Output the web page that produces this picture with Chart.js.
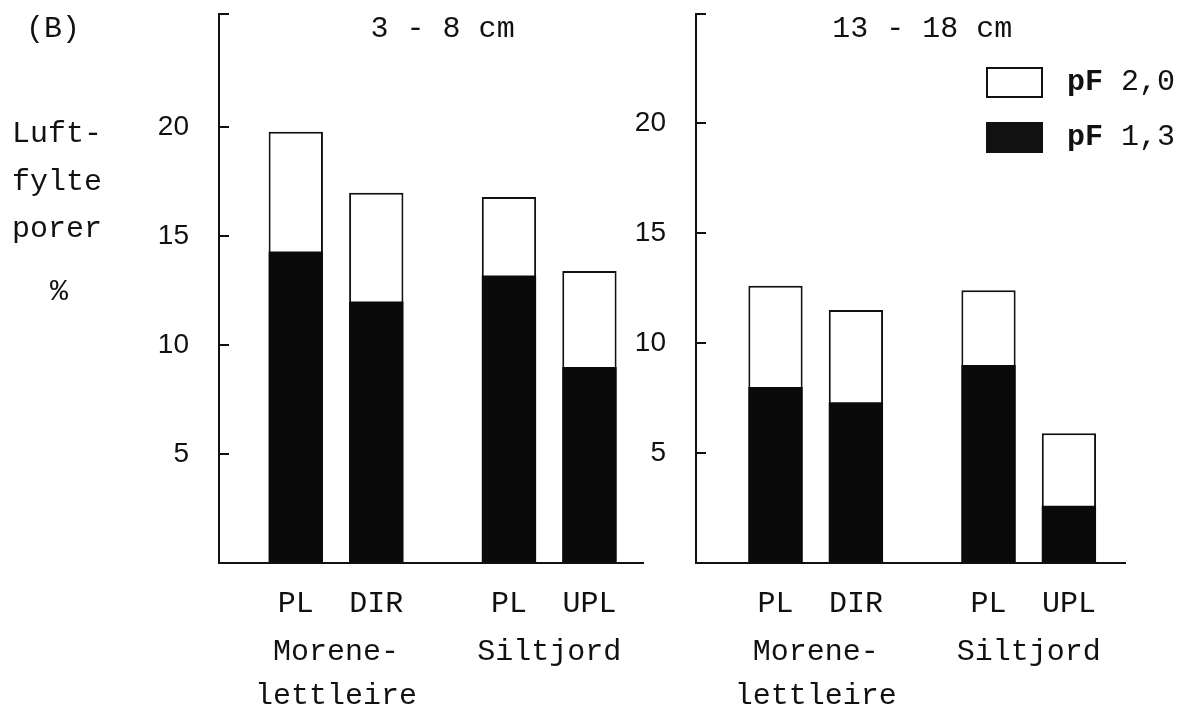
<!DOCTYPE html>
<html>
<head>
<meta charset="utf-8">
<title>Luftfylte porer</title>
<script src="https://cdn.jsdelivr.net/npm/chart.js@4.4.1/dist/chart.umd.min.js"></script>
<style>
  html, body { margin: 0; padding: 0; background: #fff; }
  body { width: 1184px; height: 710px; position: relative; overflow: hidden; }
  .panel { position: absolute; top: 0; height: 710px; }
  #left { left: 0; width: 650px; }
  #right { left: 600px; width: 584px; }
</style>
</head>
<body>
<div class="panel" id="left"><canvas id="shallowChart"></canvas></div>
<div class="panel" id="right"><canvas id="deepChart"></canvas></div>
<script>
// soil groups (x categories) and the treatment under each bar
const soilGroups = [['Morene-', 'lettleire'], ['Siltjord']];
const firstTreatment = ['PL', 'PL'];
const secondTreatment = ['DIR', 'UPL'];
const yTickValues = [5, 10, 15, 20];

// air-filled pores (%), 3 - 8 cm
const shallowPf20First = [19.8, 16.8];
const shallowPf20Second = [17.0, 13.4];
const shallowPf13First = [14.3, 13.2];
const shallowPf13Second = [12.0, 9.0];

// air-filled pores (%), 13 - 18 cm
const deepPf20First = [12.6, 12.4];
const deepPf20Second = [11.5, 5.9];
const deepPf13First = [8.0, 9.0];
const deepPf13Second = [7.3, 2.6];

const INK = '#111111';
const MONO = "'Liberation Mono', 'DejaVu Sans Mono', monospace";
const SANS = "'Liberation Sans', Arial, sans-serif";

// title over each panel and the treatment names under the bars
const panelText = {
  id: 'panelText',
  afterDraw(chart, args, opts) {
    const { ctx, chartArea } = chart;
    ctx.save();
    ctx.fillStyle = INK;
    ctx.textAlign = 'center';
    ctx.textBaseline = 'alphabetic';
    ctx.font = `30px ${MONO}`;
    ctx.fillText(opts.title, chart.scales.x.getPixelForValue(0.5), 37);
    chart.data.datasets.forEach((ds, i) => {
      if (!ds.treatments) return;
      chart.getDatasetMeta(i).data.forEach((bar, j) => {
        ctx.fillText(ds.treatments[j], bar.x, chartArea.bottom + 49);
      });
    });
    ctx.restore();
  }
};

// "(B)" and the stacked y label on the left panel
const sideLabels = {
  id: 'sideLabels',
  afterDraw(chart) {
    const { ctx } = chart;
    ctx.save();
    ctx.fillStyle = INK;
    ctx.font = `30px ${MONO}`;
    ctx.textBaseline = 'alphabetic';
    ctx.textAlign = 'left';
    ctx.fillText('(B)', 26, 37);
    ctx.textAlign = 'center';
    ctx.fillText('Luft-', 57, 142);
    ctx.fillText('fylte', 57, 190);
    ctx.fillText('porer', 57, 237);
    ctx.fillText('%', 59, 300);
    ctx.restore();
  }
};

// legend boxes, one per pF level
const pfLegend = {
  id: 'pfLegend',
  afterDraw(chart) {
    const { ctx, chartArea } = chart;
    const labels = [chart.data.datasets[2].label, chart.data.datasets[0].label];
    const boxX = chartArea.right - 138;
    const rows = [68, 123];
    ctx.save();
    rows.forEach((y, i) => {
      if (i === 0) {
        ctx.fillStyle = '#fff';
        ctx.fillRect(boxX, y, 55, 29);
        ctx.strokeStyle = INK;
        ctx.lineWidth = 2;
        ctx.strokeRect(boxX, y, 55, 29);
      } else {
        ctx.fillStyle = INK;
        ctx.fillRect(boxX - 1, y - 1, 57, 31);
      }
      const [head, ...rest] = labels[i].split(' ');
      ctx.fillStyle = INK;
      ctx.textBaseline = 'alphabetic';
      ctx.textAlign = 'left';
      ctx.font = `bold 30px ${MONO}`;
      ctx.fillText(head, boxX + 80, y + 22);
      const w = ctx.measureText(head + ' ').width;
      ctx.font = `30px ${MONO}`;
      ctx.fillText(rest.join(' '), boxX + 80 + w, y + 22);
    });
    ctx.restore();
  }
};

function buildPanel(canvasId, p) {
  const bar = { categoryPercentage: 0.755, barPercentage: 0.675, borderSkipped: false };
  return new Chart(document.getElementById(canvasId), {
    type: 'bar',
    data: {
      labels: soilGroups.map((_, i) => i),
      datasets: [
        { ...bar, label: 'pF 1,3', data: p.pf13First, stack: 'first', order: 0,
          backgroundColor: '#0a0a0a', borderWidth: 0 },
        { ...bar, label: 'pF 1,3', data: p.pf13Second, stack: 'second', order: 0,
          backgroundColor: '#0a0a0a', borderWidth: 0 },
        { ...bar, label: 'pF 2,0', data: p.pf20First, stack: 'first', order: 1,
          backgroundColor: '#fff', borderColor: INK, borderWidth: 2, treatments: firstTreatment },
        { ...bar, label: 'pF 2,0', data: p.pf20Second, stack: 'second', order: 1,
          backgroundColor: '#fff', borderColor: INK, borderWidth: 2, treatments: secondTreatment }
      ]
    },
    plugins: p.plugins,
    options: {
      responsive: true,
      maintainAspectRatio: false,
      animation: false,
      layout: { padding: { top: 14, right: p.padRight, bottom: 0, left: 0 } },
      scales: {
        x: {
          type: 'linear',
          min: p.xMin,
          max: p.xMax,
          offset: false,
          grid: { display: false, offset: false },
          border: { display: true, color: INK, width: 2 },
          afterBuildTicks: (scale) => {
            scale.ticks = soilGroups.map((_, i) => ({ value: i }));
          },
          afterFit: (scale) => {
            scale.height = 147;
            scale.paddingLeft = 0;
            scale.paddingRight = 0;
          },
          ticks: {
            autoSkip: false,
            maxRotation: 0,
            padding: 59,
            color: INK,
            font: { family: MONO, size: 30, lineHeight: 1.47 },
            callback: (v) => soilGroups[v] || ''
          }
        },
        y: {
          min: 0,
          max: p.yMax,
          stacked: false,
          grid: { drawOnChartArea: false, drawTicks: true, tickLength: -10, color: INK, lineWidth: 2 },
          border: { display: true, color: INK, width: 2 },
          afterFit: (scale) => {
            scale.width = p.axisWidth;
            scale.paddingTop = 0;
            scale.paddingBottom = 0;
          },
          ticks: {
            stepSize: 5,
            padding: 40,
            color: INK,
            font: { family: SANS, size: 28 },
            callback: (v) => (yTickValues.includes(v) ? String(v) : '')
          }
        }
      },
      plugins: {
        legend: { display: false },
        tooltip: { enabled: false },
        panelText: { title: p.title }
      }
    }
  });
}

buildPanel('shallowChart', {
  title: '3 - 8 cm',
  pf20First: shallowPf20First,
  pf20Second: shallowPf20Second,
  pf13First: shallowPf13First,
  pf13Second: shallowPf13Second,
  xMin: -0.549,
  xMax: 1.44,
  yMax: 25.2,
  axisWidth: 219,
  padRight: 7,
  plugins: [panelText, sideLabels]
});

buildPanel('deepChart', {
  title: '13 - 18 cm',
  pf20First: deepPf20First,
  pf20Second: deepPf20Second,
  pf13First: deepPf13First,
  pf13Second: deepPf13Second,
  xMin: -0.562,
  xMax: 1.452,
  yMax: 24.95,
  axisWidth: 96,
  padRight: 59,
  plugins: [panelText, pfLegend]
});
</script>
</body>
</html>
